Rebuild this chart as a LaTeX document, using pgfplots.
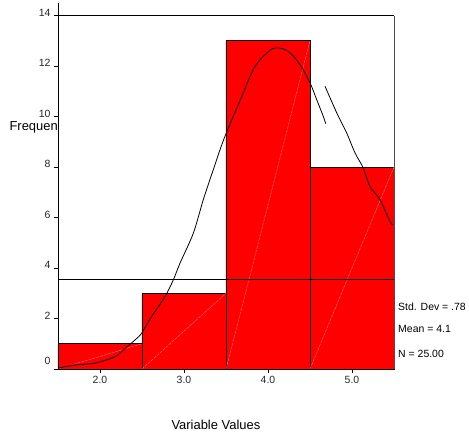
\documentclass[border=0pt]{standalone}
\usepackage{pgfplots}
\pgfplotsset{compat=1.18}
\usepackage{fontspec}
\setmainfont{Liberation Sans}
\begin{document}
\begin{tikzpicture}
\begin{axis}[
  scale only axis, width=336bp, height=366bp,
  xmin=1.5, xmax=5.5, ymin=0, ymax=14.5,
  axis x line*=bottom, axis y line*=left,
  axis line style={black, line width=0.9bp},
  tick align=outside, major tick length=4bp,
  tick style={black, line width=0.6bp},
  xtick={2,3,4,5}, xticklabels={2.0,3.0,4.0,5.0},
  ytick={0,2,...,14}, yticklabels={\raisebox{10bp}{0},2,4,6,8,10,12,14},
  ticklabel style={font=\fontsize{10.5}{12}\selectfont, text=black!85},
  yticklabel style={yshift=3bp},
  /pgf/number format/assume math mode=true,
  clip=false,
]
\coordinate (O) at (axis cs:1.5,0);
% bars
\addplot[ybar interval, fill=red, draw=black, line width=0.8bp] coordinates {(1.5,1) (2.5,3) (3.5,13) (4.5,8) (5.5,8)};
% diagonals inside bars
\addplot[white!55!red, line width=0.35bp, dash pattern=on 3bp off 1bp] coordinates {(1.5,0) (2.5,1)};
\addplot[white!55!red, line width=0.35bp, dash pattern=on 3bp off 1bp] coordinates {(2.5,0) (3.5,3)};
\addplot[white!55!red, line width=0.35bp, dash pattern=on 3bp off 1bp] coordinates {(3.5,0) (4.5,13)};
\addplot[white!55!red, line width=0.35bp, dash pattern=on 3bp off 1bp] coordinates {(4.5,0) (5.5,8)};
% frame lines
\addplot[black, line width=0.8bp] coordinates {(1.5,14) (5.5,14)};
\addplot[black!70, line width=0.9bp] coordinates {(5.5,14) (5.5,0)};
\addplot[black, line width=0.8bp] coordinates {(1.5,3.56) (5.5,3.56)};
% normal curve, part 1
\addplot[black, line width=0.8bp, smooth] coordinates {
(1.504,0.03) (1.702,0.16) (1.940,0.23) (2.179,0.49) (2.298,0.82) (2.417,1.15)
(2.496,1.42) (2.615,2.08) (2.774,2.87) (2.873,3.53) (2.952,4.19)
(3.111,5.38) (3.230,6.71) (3.349,7.90) (3.429,8.69) (3.488,9.22) (3.587,10.01)
(3.706,10.94) (3.825,11.87) (3.944,12.39) (4.063,12.70) (4.163,12.70)
(4.262,12.53) (4.381,12.06) (4.500,11.34) (4.580,10.67) (4.658,10.01) (4.687,9.72)};
% curve, part 2
\addplot[black, line width=0.8bp, smooth] coordinates {
(4.679,11.20) (4.818,10.15) (4.937,9.35) (5.036,8.56) (5.135,7.96)
(5.214,7.23) (5.333,6.71) (5.452,5.85) (5.488,5.71)};
% labels
\node[anchor=east, inner sep=0pt, font=\fontsize{13}{15}\selectfont] at (axis cs:1.5,9.56) {Frequen};
\node[font=\fontsize{13}{15}\selectfont] at (axis cs:3.38,-2.22) {Variable Values};
\node[anchor=west, inner sep=0pt, font=\fontsize{10.5}{12}\selectfont] at (axis cs:5.548,2.46) {Std. Dev = .78};
\node[anchor=west, inner sep=0pt, font=\fontsize{10.5}{12}\selectfont] at (axis cs:5.548,1.59) {Mean = 4.1};
\node[anchor=west, inner sep=0pt, font=\fontsize{10.5}{12}\selectfont] at (axis cs:5.548,0.60) {N = 25.00};
\end{axis}
\pgfresetboundingbox
\path (O) ++(-58bp,-67bp) rectangle ++(469bp,436bp);
\end{tikzpicture}
\end{document}
